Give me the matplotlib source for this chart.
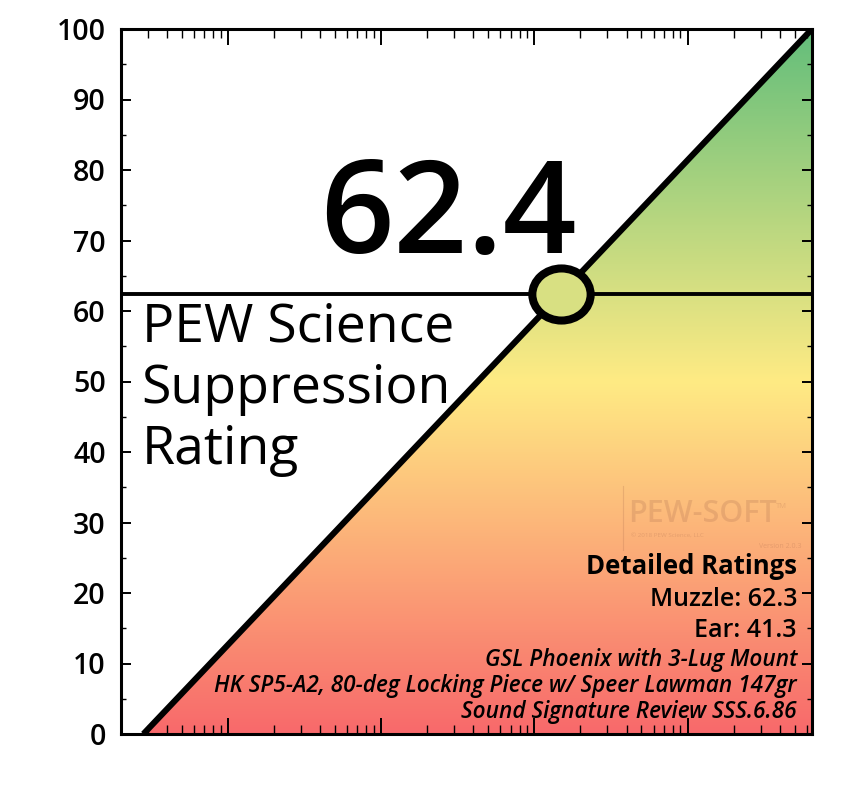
import numpy as np
import matplotlib
matplotlib.use("Agg")
import matplotlib.pyplot as plt
from matplotlib.colors import LinearSegmentedColormap
from matplotlib.path import Path
from matplotlib.markers import MarkerStyle
from matplotlib.ticker import LogLocator, MultipleLocator, NullFormatter

plt.rcParams["font.family"] = ["Open Sans", "DejaVu Sans"]

# ── Data ──────────────────────────────────────────────────
rating       = 62.4
curve_x      = [2.8, 65000]        # log-scale x extent of the rating line
curve_y      = [0, 100]
x_limits     = [2, 65000]
y_ticks      = list(range(0, 101, 10))
scale_stops  = [0.0, 0.5, 1.0]
scale_colors = ["#F8696B", "#FFEB84", "#63BE7B"]

title_lines  = ["PEW Science", "Suppression", "Rating"]
detail_head  = "Detailed Ratings"
detail_lines = ["Muzzle: 62.3", "Ear: 41.3"]
info_lines   = ["GSL Phoenix with 3-Lug Mount",
                "HK SP5-A2, 80-deg Locking Piece w/ Speer Lawman 147gr",
                "Sound Signature Review SSS.6.86"]

cmap = LinearSegmentedColormap.from_list("rating", list(zip(scale_stops, scale_colors)))

# ── Plot ──────────────────────────────────────────────────
fig = plt.figure(figsize=(8.65, 8), dpi=100)
ax = fig.add_axes([121 / 865, 1 - 734 / 800, 691 / 865, 705 / 800])
ax.set_xscale("log")
ax.set_xlim(*x_limits)
ax.set_ylim(0, 100)

# gradient under the line, clipped to the filled polygon
poly = ax.fill_between(curve_x, curve_y, 0, color="none", linewidth=0)
grad = np.linspace(0, 1, 256).reshape(-1, 1)
img = ax.imshow(grad, cmap=cmap, aspect="auto", origin="lower",
                extent=(0, 1, 0, 1), transform=ax.transAxes, zorder=1)
img.set_clip_path(poly.get_paths()[0], transform=ax.transData)

ax.plot(curve_x, curve_y, color="black", linewidth=4.4, zorder=3,
        solid_capstyle="butt")
ax.axhline(rating, color="black", linewidth=2.8, zorder=3)

# point where the rating meets the line
lx = np.log10(curve_x)
frac = (rating - curve_y[0]) / (curve_y[1] - curve_y[0])
px = 10 ** (lx[0] + frac * (lx[1] - lx[0]))
ellipse = Path.unit_circle().transformed(
    matplotlib.transforms.Affine2D().scale(1.12, 1.0))
ax.plot([px], [rating], marker=MarkerStyle(ellipse), markersize=42,
        markerfacecolor=cmap(rating / 100), markeredgecolor="black",
        markeredgewidth=5.8, linestyle="none", zorder=5)

# big number and titles
ax.text(0.474, 0.682, f"{rating:.1f}", transform=ax.transAxes, ha="center",
        va="baseline", fontsize=93, fontweight="semibold", zorder=6)
for i, line in enumerate(title_lines):
    ax.text(0.030, (734 - 342 - 61 * i) / 705, line, transform=ax.transAxes,
            ha="left", va="baseline", fontsize=38.5, zorder=6)

# watermark
wm = "#b07050"
ax.text(0.734, (734 - 522) / 705, "PEW-SOFT", transform=ax.transAxes,
        ha="left", va="baseline", fontsize=22, color=wm, alpha=0.25,
        fontweight="semibold", zorder=2)
ax.text(0.948, (734 - 508) / 705, "TM", transform=ax.transAxes,
        ha="left", va="baseline", fontsize=5.5, color=wm, alpha=0.25, zorder=2)
ax.text(0.738, (734 - 537) / 705, "© 2018 PEW Science, LLC", transform=ax.transAxes,
        ha="left", va="baseline", fontsize=4.5, color=wm, alpha=0.3, zorder=2)
ax.text(0.985, (734 - 548) / 705, "Version 2.0.3", transform=ax.transAxes,
        ha="right", va="baseline", fontsize=5, color=wm, alpha=0.3, zorder=2)
ax.plot([0.726, 0.726], [(734 - 550) / 705, (734 - 486) / 705], transform=ax.transAxes,
        color=wm, alpha=0.25, linewidth=0.8, zorder=2)

# detail block
rx = (797 - 121) / 691
ax.text(rx, (734 - 574) / 705, detail_head, transform=ax.transAxes, ha="right",
        va="baseline", fontsize=18.5, fontweight="bold", zorder=6)
for i, line in enumerate(detail_lines):
    ax.text(rx, (734 - 606 - 31 * i) / 705, line, transform=ax.transAxes,
            ha="right", va="baseline", fontsize=18, fontweight="semibold", zorder=6)
for i, line in enumerate(info_lines):
    ax.text(rx, (734 - 666 - 26 * i) / 705, line, transform=ax.transAxes,
            ha="right", va="baseline", fontsize=16.3, style="italic",
            fontweight="semibold", zorder=6)

# axes styling
ax.set_yticks(y_ticks)
ax.yaxis.set_minor_locator(MultipleLocator(5))
ax.xaxis.set_major_locator(LogLocator(base=10))
ax.xaxis.set_minor_locator(LogLocator(base=10, subs=np.arange(2, 10)))
ax.xaxis.set_major_formatter(NullFormatter())
ax.xaxis.set_minor_formatter(NullFormatter())
ax.tick_params(axis="y", which="major", direction="in", length=7, width=1.4,
               left=True, right=True, labelsize=20.5, pad=11)
ax.tick_params(axis="y", which="minor", direction="in", length=3.6, width=1.0,
               left=True, right=True)
ax.tick_params(axis="x", which="major", direction="in", length=11.5, width=1.4,
               top=True, bottom=True)
ax.tick_params(axis="x", which="minor", direction="in", length=6.5, width=1.0,
               top=True, bottom=True)
for lbl in ax.get_yticklabels():
    lbl.set_fontweight("semibold")
for s in ax.spines.values():
    s.set_linewidth(2.2)
    s.set_zorder(7)

plt.savefig("out.png", dpi=100)
plt.close()
